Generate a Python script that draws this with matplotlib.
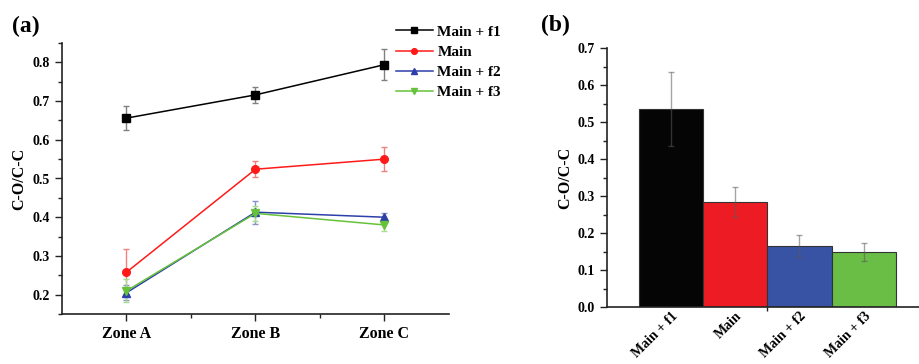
import matplotlib
matplotlib.use("Agg")
import matplotlib.pyplot as plt
import matplotlib.transforms as mtransforms
from matplotlib.ticker import MultipleLocator, FixedLocator

plt.rcParams['font.family'] = ['Liberation Serif', 'DejaVu Serif']
plt.rcParams['font.weight'] = 'bold'

# ---- panel (a): ratio across zones ----
zones = ["Zone A", "Zone B", "Zone C"]
series_names = ["Main + f1", "Main", "Main + f2", "Main + f3"]
f1_vals = [0.656, 0.716, 0.794]
f1_err = [0.030, 0.020, 0.040]
main_vals = [0.258, 0.524, 0.550]
main_err = [0.060, 0.021, 0.031]
f2_vals = [0.205, 0.413, 0.400]
f2_err = [0.020, 0.030, 0.010]
f3_vals = [0.210, 0.410, 0.380]
f3_err = [0.030, 0.020, 0.015]

# ---- panel (b): overall ratio per treatment ----
bar_labels = ["Main + f1", "Main", "Main + f2", "Main + f3"]
bar_vals = [0.535, 0.284, 0.166, 0.150]
bar_err = [0.100, 0.040, 0.030, 0.025]

line_colors = ["#000000", "#ff1a1a", "#2d3fa8", "#66c23a"]
err_colors = ["#808080", "#f08080", "#8a93cc", "#a8dc90"]
markers = ["s", "o", "^", "v"]
bar_colors = ["#050505", "#ed1c24", "#3953a4", "#6abd45"]

fig = plt.figure(figsize=(9.2, 3.64), dpi=100)

axa = fig.add_axes([62/920, 1-314/364, (449-62)/920, (314-43)/364])
xs = list(range(len(zones)))
all_vals = [f1_vals, main_vals, f2_vals, f3_vals]
all_err = [f1_err, main_err, f2_err, f3_err]
handles = []
for vals, errs, lc, ec, mk, name in zip(all_vals, all_err, line_colors,
                                        err_colors, markers, series_names):
    axa.errorbar(xs, vals, yerr=errs, fmt="none", ecolor=ec, elinewidth=1.0,
                 capsize=2.5, capthick=1.0, zorder=2)
    h, = axa.plot(xs, vals, color=lc, lw=1.1, marker=mk, markersize=5.5,
                  markeredgecolor=lc, label=name, zorder=3)
    handles.append(h)

axa.set_xlim(-0.5, 2.5)
axa.set_ylim(0.15, 0.85)
axa.set_xticks(xs)
axa.set_xticklabels(zones, fontsize=11.5, fontweight='bold')
axa.xaxis.set_minor_locator(FixedLocator([0.5, 1.5]))
axa.yaxis.set_major_locator(FixedLocator([0.2, 0.3, 0.4, 0.5, 0.6, 0.7, 0.8]))
axa.yaxis.set_minor_locator(MultipleLocator(0.05))
axa.set_ylabel("C-O/C-C", fontsize=11.5, fontweight='bold', labelpad=4)
for lab in axa.get_yticklabels():
    lab.set_fontsize(10)
    lab.set_fontweight('bold')

fig.legend(handles=handles, loc="upper left",
           bbox_to_anchor=(390/920, 1-19/364), frameon=False,
           prop={'size': 11, 'weight': 'bold'}, handlelength=2.4,
           handletextpad=0.3, labelspacing=0.42, borderaxespad=0,
           markerscale=0.75)

fig.text(12/920, 1-26/364, "(a)", fontsize=17, fontweight='bold',
         va='center', ha='left')

# ---- panel (b) ----
axb = fig.add_axes([606.7/920, 1-307.3/364, (920-606.7)/920, (307.3-48.3)/364])
bx = list(range(len(bar_labels)))
axb.bar(bx, bar_vals, width=1.0, color=bar_colors, edgecolor="#333333",
        linewidth=0.8, zorder=2)
axb.errorbar(bx, bar_vals, yerr=bar_err, fmt="none",
             ecolor=(0.35, 0.35, 0.35, 0.55), elinewidth=1.0, capsize=2.5,
             capthick=1.0, zorder=3)
axb.set_xlim(-1.0, 3.875)
axb.set_ylim(0, 0.7)
axb.set_xticks(bx)
axb.set_xticklabels(bar_labels, rotation=45, ha='right', va='top',
                    rotation_mode='anchor', fontsize=10, fontweight='bold')
axb.xaxis.set_minor_locator(FixedLocator([1.5]))
axb.yaxis.set_major_locator(MultipleLocator(0.1))
axb.yaxis.set_minor_locator(MultipleLocator(0.05))
axb.set_ylabel("C-O/C-C", fontsize=11.5, fontweight='bold', labelpad=3)
for lab in axb.get_yticklabels():
    lab.set_fontsize(10)
    lab.set_fontweight('bold')

# nudge the slanted category names to the right of each bar centre
shift = mtransforms.ScaledTranslation(0.09, 0.0, fig.dpi_scale_trans)
for lab in axb.get_xticklabels():
    lab.set_transform(lab.get_transform() + shift)

fig.text(541/920, 1-25/364, "(b)", fontsize=17, fontweight='bold',
         va='center', ha='left')

for ax in (axa, axb):
    ax.spines['top'].set_visible(False)
    ax.spines['right'].set_visible(False)
    for s in ('left', 'bottom'):
        ax.spines[s].set_linewidth(1.2)
        ax.spines[s].set_color("#222222")
    ax.tick_params(which='major', direction='out', length=5, width=1.0,
                   color="#222222")
    ax.tick_params(which='minor', direction='out', length=3, width=1.0,
                   color="#222222")
axb.tick_params(axis='x', which='major', length=0, pad=1.5)

fig.savefig("out.png", dpi=100)
